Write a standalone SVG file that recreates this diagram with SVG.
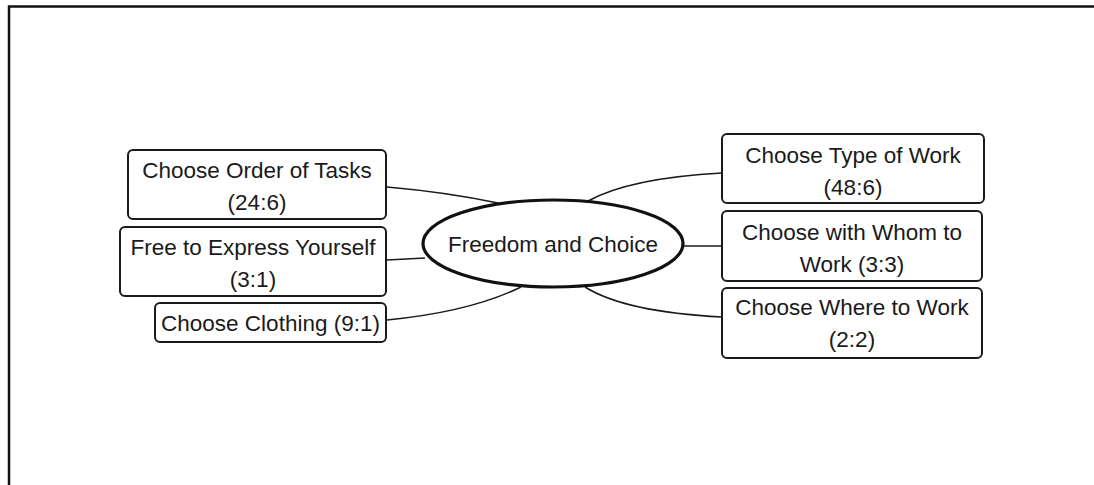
<svg xmlns="http://www.w3.org/2000/svg" width="1094" height="485" viewBox="0 0 1094 485">
<style>
.box{fill:#fff;stroke:#1a1a1a;stroke-width:2}
.t{font-family:"Liberation Sans",Arial,sans-serif;font-size:22.5px;fill:#1a1a1a;text-anchor:middle}
.c{fill:none;stroke:#1a1a1a;stroke-width:1.5}
</style>
<rect width="1094" height="485" fill="#fff"/>
<path d="M9,485 V6.5 H1094" fill="none" stroke="#111" stroke-width="2.5"/>
<g id="connectors">
<path class="c" d="M387,187 Q445,192 498,203"/>
<path class="c" d="M387,260 L425,258"/>
<path class="c" d="M387,320 Q470,312 521,287"/>
<path class="c" d="M588,201 Q630,178 722,173"/>
<path class="c" d="M683,246 L722,246"/>
<path class="c" d="M585,287 Q625,312 722,317"/>
</g>
<g id="center">
<ellipse cx="553" cy="243.5" rx="130" ry="43.5" fill="#fff" stroke="#111" stroke-width="3.2"/>
<text class="t" x="553" y="252">Freedom and Choice</text>
</g>
<g id="order">
<rect class="box" x="128" y="150" width="258" height="69" rx="5"/>
<text class="t" x="257" y="178">Choose Order of Tasks</text>
<text class="t" x="257" y="210">(24:6)</text>
</g>
<g id="express">
<rect class="box" x="120" y="227" width="266" height="69" rx="5"/>
<text class="t" x="253" y="255">Free to Express Yourself</text>
<text class="t" x="253" y="287">(3:1)</text>
</g>
<g id="clothing">
<rect class="box" x="155" y="303" width="231" height="39" rx="5"/>
<text class="t" x="270.5" y="331">Choose Clothing (9:1)</text>
</g>
<g id="type">
<rect class="box" x="722" y="134" width="262" height="69" rx="5"/>
<text class="t" x="853" y="163">Choose Type of Work</text>
<text class="t" x="853" y="195">(48:6)</text>
</g>
<g id="whom">
<rect class="box" x="722" y="211" width="260" height="70" rx="5"/>
<text class="t" x="852" y="240">Choose with Whom to</text>
<text class="t" x="852" y="272">Work (3:3)</text>
</g>
<g id="where">
<rect class="box" x="722" y="288" width="260" height="70" rx="5"/>
<text class="t" x="852" y="315">Choose Where to Work</text>
<text class="t" x="852" y="347">(2:2)</text>
</g>
</svg>
